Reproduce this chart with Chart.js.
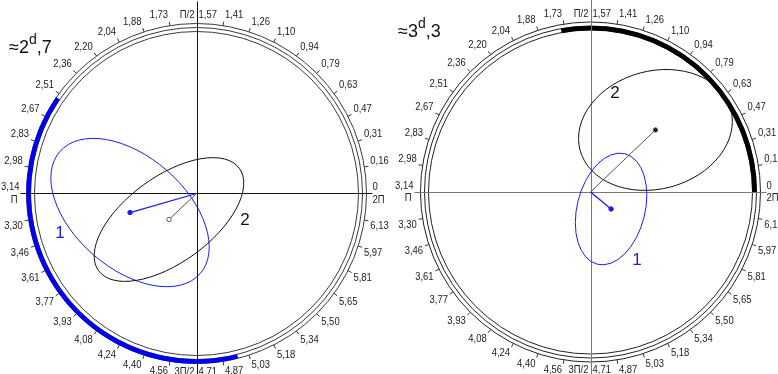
<!DOCTYPE html>
<html>
<head>
<meta charset="utf-8">
<script src="https://cdn.jsdelivr.net/npm/chart.js@4/dist/chart.umd.min.js"></script>
<style>
  html, body { margin: 0; padding: 0; background: #fff; width: 778px; height: 374px; overflow: hidden; }
  canvas { position: absolute; top: 0; }
  #dialA { left: 0; }
  #dialB { left: 393px; }
</style>
</head>
<body>
<canvas id="dialA" width="393" height="374"></canvas>
<canvas id="dialB" width="385" height="374"></canvas>
<script>
// Phase-circle labels, one every pi/20 rad, counter-clockwise from 0
const tickLabels = ['0', '0,16', '0,31', '0,47', '0,63', '0,79', '0,94', '1,10', '1,26', '1,41',
                    '1,57', '1,73', '1,88', '2,04', '2,20', '2,36', '2,51', '2,67', '2,83', '2,98',
                    '3,14', '3,30', '3,46', '3,61', '3,77', '3,93', '4,08', '4,24', '4,40', '4,56',
                    '4,71', '4,87', '5,03', '5,18', '5,34', '5,50', '5,65', '5,81', '5,97', '6,13'];
// Names written on the other side of the axis at 0, pi/2, pi, 3pi/2
const axisNames = ['2П', 'П/2', 'П', '3П/2'];

const ellipseNames = ['1', '2'];

// Left dial (≈2d,7): ellipse centres, semi-axes (dial radius = 1), tilt in degrees
const leftTitle = ['≈2', 'd', ',7'];
const leftCentreX = [-0.391, -0.162];
const leftCentreY = [-0.112, -0.153];
const leftSemiMajor = [0.547, 0.512];
const leftSemiMinor = [0.329, 0.253];
const leftTilt = [-41, 36];
const leftArc = [2.54, 4.96];     // phase range of track 1, rad

// Right dial (≈3d,3)
const rightTitle = ['≈3', 'd', ',3'];
const rightCentreX = [0.121, 0.382];
const rightCentreY = [-0.100, 0.365];
const rightSemiMajor = [0.335, 0.459];
const rightSemiMinor = [0.200, 0.347];
const rightTilt = [76, 15];
const rightArc = [0.00, 1.75];    // phase range of track 2, rad

const FONT = '"Liberation Sans", Arial, sans-serif';
const SCALE = 170;                // px per dial radius
const BLUE = '#1a1aff';

function squeezedText(ctx, txt, x, y, align, base, size) {
  ctx.save();
  ctx.font = size + 'px ' + FONT;
  ctx.textAlign = align;
  ctx.textBaseline = base;
  ctx.translate(x, y);
  ctx.scale(0.9, 1);
  ctx.fillText(txt, 0, 0);
  ctx.restore();
}

const dialPlugin = {
  id: 'dial',
  beforeDatasetsDraw(chart, args, o) {
    const { ctx } = chart;
    const xs = chart.scales.x, ys = chart.scales.y;
    const cx = xs.getPixelForValue(0), cy = ys.getPixelForValue(0);
    const R = xs.getPixelForValue(1) - cx;
    ctx.save();

    const trackR = o.track === 0 ? R - 2 : R - 6;
    const drawArc = () => {
      ctx.beginPath();
      ctx.strokeStyle = o.arcColor;
      ctx.lineWidth = 4.6;
      ctx.arc(cx, cy, trackR, -o.arc[1], -o.arc[0]);
      ctx.stroke();
    };

    // three concentric rings
    ctx.lineWidth = 1;
    ctx.strokeStyle = o.ringColor;
    [R, R - 4, R - 8].forEach((r) => {
      ctx.beginPath();
      ctx.arc(cx, cy, r, 0, Math.PI * 2);
      ctx.stroke();
    });
    // phase track over the rings it covers
    drawArc();

    // axes
    ctx.strokeStyle = o.axisColor;
    ctx.lineWidth = 1;
    ctx.beginPath();
    ctx.moveTo(Math.round(cx) + 0.5, cy - R - 22);
    ctx.lineTo(Math.round(cx) + 0.5, cy + R + 12);
    ctx.moveTo(cx - R - 6, Math.round(cy) + 0.5);
    ctx.lineTo(cx + R + 6, Math.round(cy) + 0.5);
    ctx.stroke();

    // ticks and labels
    ctx.strokeStyle = '#333';
    ctx.fillStyle = '#222';
    tickLabels.forEach((lab, k) => {
      const t = k * Math.PI / 20;
      const c = Math.cos(t), s = Math.sin(t);
      if (k % 10 !== 0) {
        ctx.beginPath();
        ctx.moveTo(cx + R * c, cy - R * s);
        ctx.lineTo(cx + (R + 4) * c, cy - (R + 4) * s);
        ctx.stroke();
        const ax = cx + (R + 5) * c + (c > 0.05 ? 1 : c < -0.05 ? -1 : 0);
        const ay = cy - (R + 5) * s;
        squeezedText(ctx, lab, ax, ay, c > 0.05 ? 'left' : 'right', s > 0 ? 'bottom' : 'top', 10.5);
      } else {
        const q = k / 10;
        const other = axisNames[q];
        if (q === 0) {
          squeezedText(ctx, lab, cx + R + 6, cy - 1, 'left', 'bottom', 10.5);
          squeezedText(ctx, other, cx + R + 6, cy + 1, 'left', 'top', 10.5);
        } else if (q === 1) {
          squeezedText(ctx, lab, cx + 2, cy - R - 3, 'left', 'bottom', 10.5);
          squeezedText(ctx, other, cx - 2, cy - R - 3, 'right', 'bottom', 10.5);
        } else if (q === 2) {
          squeezedText(ctx, lab, cx - R - 7, cy - 1, 'right', 'bottom', 10.5);
          squeezedText(ctx, other, cx - R - 9, cy + 1, 'right', 'top', 10.5);
        } else {
          squeezedText(ctx, lab, cx + 2, cy + R + 3, 'left', 'top', 10.5);
          squeezedText(ctx, other, cx - 2, cy + R + 3, 'right', 'top', 10.5);
        }
      }
    });

    // ellipses
    o.centreX.forEach((ex, i) => {
      const px = xs.getPixelForValue(ex), py = ys.getPixelForValue(o.centreY[i]);
      const a = xs.getPixelForValue(o.semiMajor[i]) - cx;
      const b = xs.getPixelForValue(o.semiMinor[i]) - cx;
      ctx.beginPath();
      ctx.strokeStyle = o.ellipseColors[i];
      ctx.lineWidth = 1;
      ctx.ellipse(px, py, a, b, -o.tilt[i] * Math.PI / 180, 0, Math.PI * 2);
      ctx.stroke();
      ctx.fillStyle = o.ellipseColors[i];
      ctx.font = '17px ' + FONT;
      ctx.textAlign = 'center';
      ctx.textBaseline = 'middle';
      ctx.fillText(ellipseNames[i], cx + o.namePos[i][0], cy + o.namePos[i][1]);
    });

    // title
    ctx.fillStyle = '#111';
    ctx.textAlign = 'left';
    ctx.textBaseline = 'alphabetic';
    ctx.font = '18px ' + FONT;
    let tx = o.titlePos[0];
    const tyy = o.titlePos[1];
    ctx.fillText(o.title[0], tx, tyy);
    tx += ctx.measureText(o.title[0]).width;
    ctx.font = '14px ' + FONT;
    ctx.fillText(o.title[1], tx, tyy - 9);
    tx += ctx.measureText(o.title[1]).width;
    ctx.font = '18px ' + FONT;
    ctx.fillText(o.title[2], tx, tyy);
    ctx.restore();
  }
};

function makeDial(id, centreX, centreY, semiMajor, semiMinor, tilt, arc, opts) {
  const canvas = document.getElementById(id);
  const W = canvas.width, H = canvas.height;
  const vectorSets = centreX.map((ex, i) => ({
    data: [{ x: 0, y: 0 }, { x: ex, y: centreY[i] }],
    showLine: true,
    borderColor: opts.vectorColors[i],
    borderWidth: i === 0 ? 1.3 : 1,
    pointRadius: [0, 2.2],
    pointHoverRadius: 0,
    pointBackgroundColor: opts.dotFill[i],
    pointBorderColor: opts.vectorColors[i],
    pointBorderWidth: 1
  }));
  return new Chart(canvas, {
    type: 'scatter',
    data: { datasets: vectorSets },
    options: {
      responsive: false,
      animation: false,
      devicePixelRatio: 1,
      layout: { padding: 0, autoPadding: false },
      scales: {
        x: { type: 'linear', display: false, min: -opts.cx / SCALE, max: (W - opts.cx) / SCALE },
        y: { type: 'linear', display: false, min: -(H - opts.cy) / SCALE, max: opts.cy / SCALE }
      },
      plugins: {
        legend: { display: false },
        tooltip: { enabled: false },
        dial: {
          centreX, centreY, semiMajor, semiMinor, tilt, arc,
          track: opts.track, arcColor: opts.arcColor, ringColor: opts.ringColor,
          axisColor: opts.axisColor, ellipseColors: opts.ellipseColors,
          namePos: opts.namePos, title: opts.title, titlePos: opts.titlePos
        }
      }
    },
    plugins: [dialPlugin]
  });
}

makeDial('dialA', leftCentreX, leftCentreY, leftSemiMajor, leftSemiMinor, leftTilt, leftArc, {
  cx: 196.5, cy: 193.5, track: 0, arcColor: '#0000ee', ringColor: '#3a3a3a', axisColor: '#111',
  ellipseColors: [BLUE, '#111'], vectorColors: [BLUE, '#555'], dotFill: [BLUE, '#fff'],
  namePos: [[-136.5, 40], [48.5, 27]], title: leftTitle, titlePos: [9, 53]
});

makeDial('dialB', rightCentreX, rightCentreY, rightSemiMajor, rightSemiMinor, rightTilt, rightArc, {
  cx: 197.5, cy: 192, track: 1, arcColor: '#000', ringColor: '#222', axisColor: '#777',
  ellipseColors: [BLUE, '#111'], vectorColors: [BLUE, '#555'], dotFill: [BLUE, '#111'],
  namePos: [[46.5, 68], [24.5, -99]], title: rightTitle, titlePos: [5, 37]
});
</script>
</body>
</html>
